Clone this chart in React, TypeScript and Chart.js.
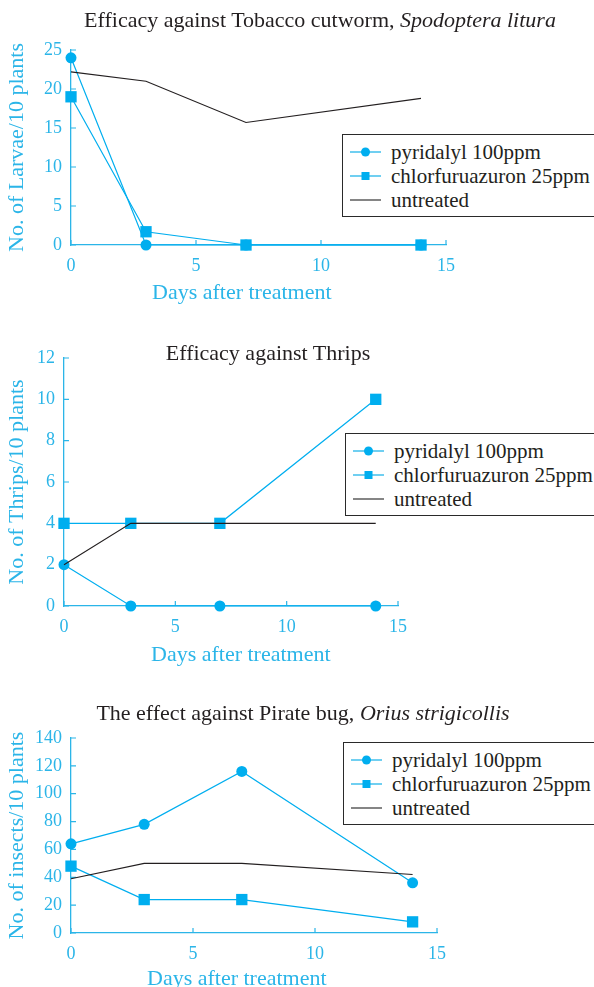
import React, { useEffect, useRef } from 'react';
import { Chart, registerables } from 'chart.js';

Chart.register(...registerables);

// ---------- data ----------
const days = [0, 3, 7, 14];
const xTickValues = [0, 5, 10, 15];
const seriesNames = ['pyridalyl 100ppm', 'chlorfuruazuron 25ppm', 'untreated'];

const larvaePyridalyl = [24, 0, 0, 0];
const larvaeChlor = [19, 1.7, 0, 0];
const larvaeUntreated = [22.2, 21.0, 15.7, 18.8];

const thripsPyridalyl = [2, 0, 0, 0];
const thripsChlor = [4, 4, 4, 10];
const thripsUntreated = [2, 4, 4, 4];

const oriusPyridalyl = [64, 78, 116, 36];
const oriusChlor = [48, 24, 24, 8];
const oriusUntreated = [39, 50, 50, 42];

// ---------- styles ----------
const BLUE = '#00AEEF';
const AXIS_BLUE = '#2BB5E8';
const INK = '#231F20';
const FONT = "'Liberation Serif', 'Times New Roman', serif";
const W = 594;

const inwardTicks = {
  id: 'inwardTicks',
  beforeDatasetsDraw(chart: any) {
    const ctx = chart.ctx;
    const xs = chart.scales.x;
    const ys = chart.scales.y;
    const len = 5;
    ctx.save();
    ctx.strokeStyle = AXIS_BLUE;
    ctx.lineWidth = 1.2;
    ctx.beginPath();
    xs.ticks.forEach((t: any) => {
      const px = xs.getPixelForValue(t.value);
      ctx.moveTo(px, ys.bottom);
      ctx.lineTo(px, ys.bottom - len);
    });
    ys.ticks.forEach((t: any) => {
      const py = ys.getPixelForValue(t.value);
      ctx.moveTo(xs.left, py);
      ctx.lineTo(xs.left + len, py);
    });
    ctx.stroke();
    ctx.restore();
  },
};

type Area = { left: number; right: number; top: number; bottom: number };

type PanelProps = {
  top: number;
  height: number;
  pyr: number[];
  chl: number[];
  unt: number[];
  yMax: number;
  yStep: number;
  area: Area;
  yTitle: string;
  title: React.ReactNode;
  titleCenter: { x: number; y: number };
  xTitlePos: { x: number; y: number };
  legendPos: { x: number; y: number };
};

function Marker({ kind }: { kind: 'circle' | 'rect' | 'line' }) {
  const color = kind === 'line' ? INK : BLUE;
  return (
    <svg width={32} height={14} style={{ display: 'block' }}>
      <line x1={0} y1={7} x2={31} y2={7} stroke={kind === 'line' ? '#333' : '#4CC3EE'} strokeWidth={kind === 'line' ? 1.2 : 1.6} />
      {kind === 'circle' && <circle cx={15.5} cy={7} r={4.5} fill={color} />}
      {kind === 'rect' && <rect x={11.5} y={3} width={8} height={8} fill={color} />}
    </svg>
  );
}

function Legend({ x, y }: { x: number; y: number }) {
  const kinds: ('circle' | 'rect' | 'line')[] = ['circle', 'rect', 'line'];
  return (
    <div
      style={{
        position: 'absolute',
        left: x,
        top: y,
        width: 300,
        height: 83,
        border: '1.5px solid #2a2a2a',
        boxSizing: 'border-box',
        background: '#fff',
        paddingTop: 5,
      }}
    >
      {seriesNames.map((name, i) => (
        <div key={name} style={{ display: 'flex', alignItems: 'center', height: 24, paddingLeft: 7 }}>
          <Marker kind={kinds[i]} />
          <span style={{ marginLeft: 9, fontFamily: FONT, fontSize: 21, color: INK, whiteSpace: 'nowrap', lineHeight: '24px' }}>
            {name}
          </span>
        </div>
      ))}
    </div>
  );
}

function Panel(p: PanelProps) {
  const ref = useRef<HTMLCanvasElement | null>(null);

  useEffect(() => {
    if (!ref.current) return;
    const toPts = (arr: number[]) => days.map((d, i) => ({ x: d, y: arr[i] }));
    const tickFont = { family: FONT, size: 18 };
    const chart = new Chart(ref.current, {
      type: 'line',
      data: {
        datasets: [
          {
            label: seriesNames[2],
            data: toPts(p.unt),
            borderColor: INK,
            backgroundColor: INK,
            borderWidth: 1.1,
            pointRadius: 0,
            clip: false,
          },
          {
            label: seriesNames[0],
            data: toPts(p.pyr),
            borderColor: BLUE,
            backgroundColor: BLUE,
            borderWidth: 1.2,
            pointStyle: 'circle',
            pointRadius: 5.5,
            pointBorderWidth: 0,
            clip: false,
          },
          {
            label: seriesNames[1],
            data: toPts(p.chl),
            borderColor: BLUE,
            backgroundColor: BLUE,
            borderWidth: 1.2,
            pointStyle: 'rect',
            pointRadius: 8,
            pointBorderWidth: 0,
            clip: false,
          },
        ],
      },
      options: {
        responsive: false,
        animation: false,
        layout: { padding: { left: 0, top: p.area.top, right: W - p.area.right, bottom: 0 } },
        plugins: { legend: { display: false }, tooltip: { enabled: false } },
        scales: {
          x: {
            type: 'linear',
            min: 0,
            max: 15,
            afterBuildTicks: (s: any) => {
              s.ticks = xTickValues.map((v) => ({ value: v }));
            },
            ticks: { color: AXIS_BLUE, font: tickFont, padding: 10, maxRotation: 0 },
            grid: { display: false, drawTicks: false, tickLength: 0 },
            border: { display: true, color: AXIS_BLUE, width: 1.3 },
            afterFit: (s: any) => {
              s.height = p.height - p.area.bottom;
            },
          },
          y: {
            type: 'linear',
            min: 0,
            max: p.yMax,
            ticks: { stepSize: p.yStep, color: AXIS_BLUE, font: tickFont, padding: 9 },
            grid: { display: false, drawTicks: false, tickLength: 0 },
            border: { display: true, color: AXIS_BLUE, width: 1.3 },
            title: {
              display: true,
              text: p.yTitle,
              color: AXIS_BLUE,
              font: { family: FONT, size: 22 },
              padding: { top: 4, bottom: 0 },
            },
            afterFit: (s: any) => {
              s.width = p.area.left;
            },
          },
        },
      },
      plugins: [inwardTicks],
    } as any);
    return () => chart.destroy();
  }, []);

  return (
    <div style={{ position: 'absolute', left: 0, top: p.top, width: W, height: p.height }}>
      <canvas ref={ref} width={W} height={p.height} style={{ position: 'absolute', left: 0, top: 0, width: W, height: p.height }} />
      <div
        style={{
          position: 'absolute',
          left: p.titleCenter.x,
          top: p.titleCenter.y - 13,
          transform: 'translateX(-50%)',
          fontFamily: FONT,
          fontSize: 22,
          lineHeight: '26px',
          color: INK,
          whiteSpace: 'nowrap',
        }}
      >
        {p.title}
      </div>
      <div
        style={{
          position: 'absolute',
          left: p.xTitlePos.x,
          top: p.xTitlePos.y - 13,
          fontFamily: FONT,
          fontSize: 22,
          lineHeight: '26px',
          color: AXIS_BLUE,
          whiteSpace: 'nowrap',
        }}
      >
        Days after treatment
      </div>
      <Legend x={p.legendPos.x} y={p.legendPos.y} />
    </div>
  );
}

export default function App() {
  return (
    <div style={{ position: 'absolute', left: 0, top: 0, width: W, height: 987, overflow: 'hidden', background: '#fff' }}>
      <Panel
        top={0}
        height={310}
        pyr={larvaePyridalyl}
        chl={larvaeChlor}
        unt={larvaeUntreated}
        yMax={25}
        yStep={5}
        area={{ left: 71, right: 446, top: 50, bottom: 245 }}
        yTitle="No. of Larvae/10 plants"
        title={
          <>
            Efficacy against Tobacco cutworm, <i>Spodoptera litura</i>
          </>
        }
        titleCenter={{ x: 320, y: 20 }}
        xTitlePos={{ x: 152, y: 292 }}
        legendPos={{ x: 342, y: 134 }}
      />
      <Panel
        top={310}
        height={360}
        pyr={thripsPyridalyl}
        chl={thripsChlor}
        unt={thripsUntreated}
        yMax={12}
        yStep={2}
        area={{ left: 64, right: 398, top: 48, bottom: 296 }}
        yTitle="No. of Thrips/10 plants"
        title={<>Efficacy against Thrips</>}
        titleCenter={{ x: 268, y: 43 }}
        xTitlePos={{ x: 151, y: 344 }}
        legendPos={{ x: 345, y: 123 }}
      />
      <Panel
        top={670}
        height={317}
        pyr={oriusPyridalyl}
        chl={oriusChlor}
        unt={oriusUntreated}
        yMax={140}
        yStep={20}
        area={{ left: 71, right: 437, top: 68, bottom: 263 }}
        yTitle="No. of insects/10 plants"
        title={
          <>
            The effect against Pirate bug, <i>Orius strigicollis</i>
          </>
        }
        titleCenter={{ x: 303, y: 43 }}
        xTitlePos={{ x: 147, y: 308 }}
        legendPos={{ x: 343, y: 72 }}
      />
    </div>
  );
}
